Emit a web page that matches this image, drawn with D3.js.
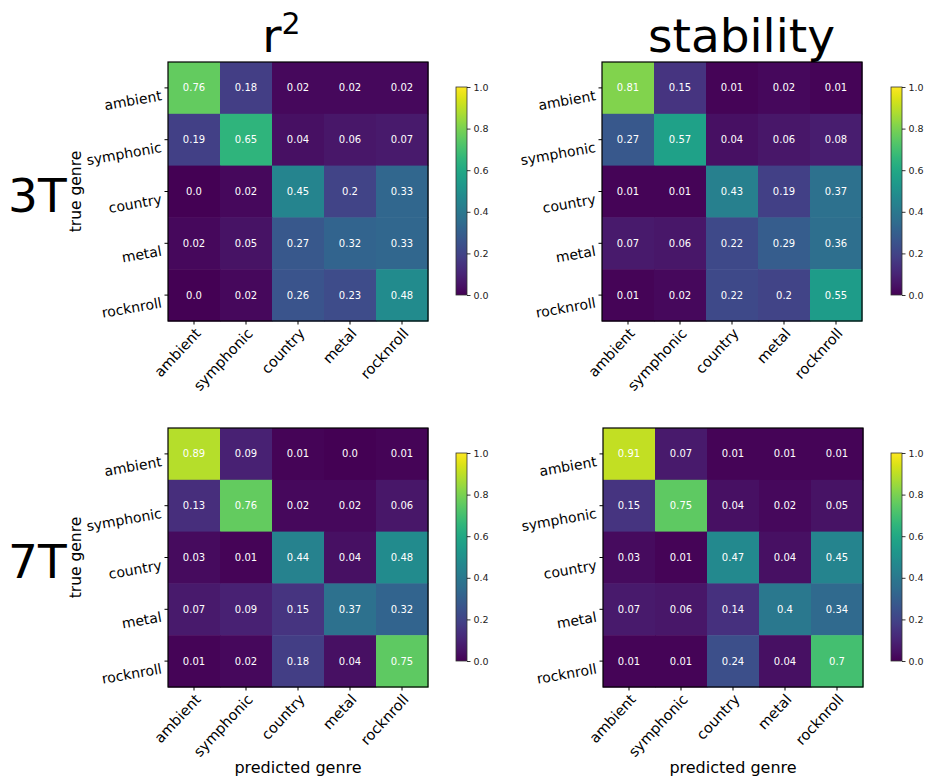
<!DOCTYPE html>
<html>
<head>
<meta charset="utf-8">
<script src="https://cdn.jsdelivr.net/npm/d3@7"></script>
<style>
  html, body { margin: 0; padding: 0; background: #fff; }
  svg { display: block; font-family: "DejaVu Sans", sans-serif; }
</style>
</head>
<body>
<svg id="chart" width="926" height="780"></svg>
<script>
// ---- data ----
const genres = ["ambient", "symphonic", "country", "metal", "rocknroll"];
const columnTitles = ["r", "stability"];
const rowTitles = ["3T", "7T"];
const colorbarTicks = [0.0, 0.2, 0.4, 0.6, 0.8, 1.0];

const r2_3T = [
  [0.76, 0.18, 0.02, 0.02, 0.02],
  [0.19, 0.65, 0.04, 0.06, 0.07],
  [0.0, 0.02, 0.45, 0.2, 0.33],
  [0.02, 0.05, 0.27, 0.32, 0.33],
  [0.0, 0.02, 0.26, 0.23, 0.48]
];
const stability_3T = [
  [0.81, 0.15, 0.01, 0.02, 0.01],
  [0.27, 0.57, 0.04, 0.06, 0.08],
  [0.01, 0.01, 0.43, 0.19, 0.37],
  [0.07, 0.06, 0.22, 0.29, 0.36],
  [0.01, 0.02, 0.22, 0.2, 0.55]
];
const r2_7T = [
  [0.89, 0.09, 0.01, 0.0, 0.01],
  [0.13, 0.76, 0.02, 0.02, 0.06],
  [0.03, 0.01, 0.44, 0.04, 0.48],
  [0.07, 0.09, 0.15, 0.37, 0.32],
  [0.01, 0.02, 0.18, 0.04, 0.75]
];
const stability_7T = [
  [0.91, 0.07, 0.01, 0.01, 0.01],
  [0.15, 0.75, 0.04, 0.02, 0.05],
  [0.03, 0.01, 0.47, 0.04, 0.45],
  [0.07, 0.06, 0.14, 0.4, 0.34],
  [0.01, 0.01, 0.24, 0.04, 0.7]
];

// ---- layout ----
const panels = [
  { m: r2_3T, x: 168, y: 62, cbx: 456, cby: 87, col: 0, row: 0 },
  { m: stability_3T, x: 602, y: 62, cbx: 891, cby: 87, col: 1, row: 0 },
  { m: r2_7T, x: 168, y: 428, cbx: 456, cby: 453, col: 0, row: 1 },
  { m: stability_7T, x: 603, y: 428, cbx: 891, cby: 453, col: 1, row: 1 }
];
const W = 260, H = 259, cbW = 11, cbH = 208;
const color = d3.scaleSequential(d3.interpolateViridis).domain([0, 1]);
const fmt = v => Number.isInteger(v) ? v.toFixed(1) : String(v);

const svg = d3.select("#chart");

// gradient for colorbar
const defs = svg.append("defs");
const grad = defs.append("linearGradient").attr("id", "viridis")
  .attr("x1", 0).attr("y1", 1).attr("x2", 0).attr("y2", 0);
d3.range(0, 1.0001, 0.02).forEach(t => {
  grad.append("stop").attr("offset", t).attr("stop-color", color(t));
});

panels.forEach(p => {
  const g = svg.append("g");
  const xs = d3.scaleBand().domain(genres).range([p.x, p.x + W]);
  const ys = d3.scaleBand().domain(genres).range([p.y, p.y + H]);

  const cells = [];
  p.m.forEach((row, i) => row.forEach((v, j) => cells.push({ t: genres[i], pr: genres[j], v })));

  g.selectAll("rect.cell").data(cells).join("rect")
    .attr("class", "cell")
    .attr("x", d => xs(d.pr)).attr("y", d => ys(d.t))
    .attr("width", xs.bandwidth() + 0.5).attr("height", ys.bandwidth() + 0.5)
    .attr("fill", d => color(d.v));

  g.selectAll("text.val").data(cells).join("text")
    .attr("class", "val")
    .attr("x", d => xs(d.pr) + xs.bandwidth() / 2)
    .attr("y", d => ys(d.t) + ys.bandwidth() / 2)
    .attr("text-anchor", "middle").attr("dominant-baseline", "central")
    .attr("fill", "#fff").attr("font-size", 10)
    .text(d => fmt(d.v));

  // frame
  g.append("rect").attr("x", p.x).attr("y", p.y).attr("width", W).attr("height", H)
    .attr("fill", "none").attr("stroke", "#000").attr("stroke-width", 1.2);

  // x ticks
  genres.forEach(name => {
    const cx = xs(name) + xs.bandwidth() / 2;
    g.append("line").attr("x1", cx).attr("x2", cx).attr("y1", p.y + H).attr("y2", p.y + H + 3.5)
      .attr("stroke", "#000").attr("stroke-width", 1);
    g.append("text")
      .attr("transform", `translate(${cx},${p.y + H + 6}) rotate(-47)`)
      .attr("text-anchor", "end").attr("dominant-baseline", "hanging")
      .attr("font-size", 14.5).attr("fill", "#000")
      .text(name);
  });

  // y ticks
  genres.forEach(name => {
    const cy = ys(name) + ys.bandwidth() / 2;
    g.append("line").attr("x1", p.x).attr("x2", p.x - 3.5).attr("y1", cy).attr("y2", cy)
      .attr("stroke", "#000").attr("stroke-width", 1);
    g.append("text")
      .attr("transform", `translate(${p.x - 7.5},${cy + 2}) rotate(-10)`)
      .attr("text-anchor", "end").attr("dominant-baseline", "hanging")
      .attr("font-size", 14).attr("fill", "#000")
      .text(name);
  });

  // colorbar
  const cs = d3.scaleLinear().domain([0, 1]).range([p.cby + cbH, p.cby]);
  g.append("rect").attr("x", p.cbx).attr("y", p.cby).attr("width", cbW).attr("height", cbH)
    .attr("fill", "url(#viridis)").attr("stroke", "#333").attr("stroke-width", 0.8);
  const axis = d3.axisRight(cs).tickValues(colorbarTicks).tickFormat(d3.format(".1f"))
    .tickSize(3.5).tickPadding(3);
  const ag = g.append("g").attr("transform", `translate(${p.cbx + cbW},0)`).call(axis);
  ag.select(".domain").remove();
  ag.selectAll("text").attr("font-size", 9.5).attr("font-family", "DejaVu Sans").attr("fill", "#222");
  ag.selectAll("line").attr("stroke", "#000").attr("stroke-width", 0.8);

  // axis labels
  if (p.col === 0) {
    g.append("text")
      .attr("transform", `translate(${p.x - 92},${p.y + H / 2}) rotate(-90)`)
      .attr("text-anchor", "middle").attr("dominant-baseline", "central")
      .attr("font-size", 15.5).attr("fill", "#000").text("true genre");
  }
  if (p.row === 1) {
    g.append("text")
      .attr("x", p.x + W / 2).attr("y", 773)
      .attr("text-anchor", "middle").attr("font-size", 16).attr("fill", "#000")
      .text("predicted genre");
  }
});

// column titles
const t0 = svg.append("text").attr("x", 281.5).attr("y", 52)
  .attr("text-anchor", "middle").attr("font-size", 47).attr("fill", "#000");
t0.append("tspan").text(columnTitles[0]);
t0.append("tspan").attr("font-size", 30).attr("dy", -18).text("2");
svg.append("text").attr("x", 741.5).attr("y", 52)
  .attr("text-anchor", "middle").attr("font-size", 47).attr("fill", "#000")
  .text(columnTitles[1]);

// row titles
svg.append("text").attr("x", 8).attr("y", 212).attr("font-size", 47).attr("fill", "#000").text(rowTitles[0]);
svg.append("text").attr("x", 8).attr("y", 578).attr("font-size", 47).attr("fill", "#000").text(rowTitles[1]);
</script>
</body>
</html>
